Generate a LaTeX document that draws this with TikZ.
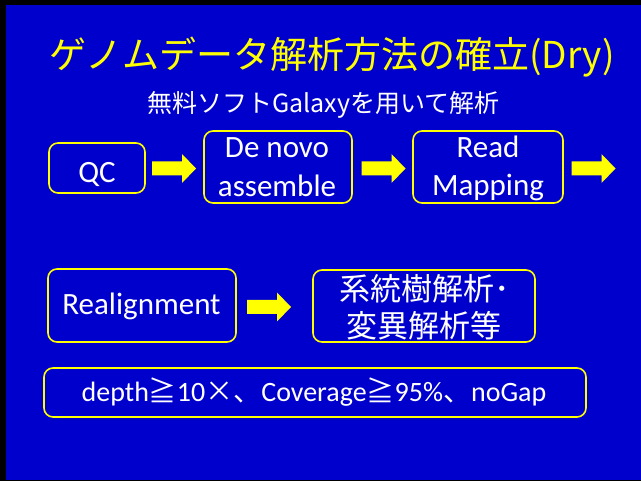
\documentclass[tikz,border=0pt]{standalone}
\usepackage{fontspec}
\setmainfont{Carlito}
\newfontfamily\jp{Noto Sans CJK JP}
\definecolor{bg}{RGB}{0,0,204}
\definecolor{yl}{RGB}{255,255,0}
\tikzset{
  box/.style={draw=yl, line width=1.6pt, rounded corners=9pt, fill=bg, inner sep=0pt},
  btxt/.style={text=white, inner sep=0pt, anchor=base, font=\fontsize{31}{31}\selectfont},
  jtxt/.style={text=white, inner sep=0pt, anchor=base, font=\jp\fontsize{31}{31}\selectfont},
  yarrow/.style={fill=yl}
}
\newcommand\blockarrow[1]{\fill[yarrow] (#1) ++(-22,-7) -- ++(30,0) -- ++(0,-7.5) -- ++(14,14.5) -- ++(-14,14.5) -- ++(0,-7.5) -- ++(-30,0) -- cycle;}
\begin{document}
\begin{tikzpicture}[x=1pt,y=-1pt]
\useasboundingbox (0,0) rectangle (641,481);
\fill[black] (0,0) rectangle (641,481);
\fill[bg] (6,5) rectangle (641,480);
% title
\node[text=yl, inner sep=0pt, anchor=base, font=\jp\fontsize{37}{37}\selectfont] (title) at (332,69) {ゲノムデータ解析方法の確立(Dry)};
\node[text=white, inner sep=0pt, anchor=base, font=\jp\fontsize{25}{25}\selectfont] (sub) at (323.5,113) {無料ソフトGalaxyを用いて解析};
% row 1
\node[box, minimum width=96pt, minimum height=50pt] (qc) at (97,168) {};
\node[btxt] (qct) at (97,183) {QC};
\node[box, minimum width=148pt, minimum height=72pt] (dn) at (278,167) {};
\node[btxt] (dn1) at (277,158) {De novo};
\node[btxt] (dn2) at (277,197) {assemble};
\node[box, minimum width=150pt, minimum height=72pt] (rm) at (488,167) {};
\node[btxt] (rm1) at (488,158) {Read};
\node[btxt] (rm2) at (488,196) {Mapping};
\coordinate (a1) at (174,168.5);
\coordinate (a2) at (383.5,168.5);
\coordinate (a3) at (593.5,168.5);
\blockarrow{a1}
\blockarrow{a2}
\blockarrow{a3}
% row 2
\node[box, minimum width=188pt, minimum height=73pt] (ra) at (142,305.5) {};
\node[btxt] (rat) at (141.5,315) {Realignment};
\coordinate (a4) at (269,307);
\blockarrow{a4}
\node[box, minimum width=222pt, minimum height=72pt] (an) at (424,306) {};
\node[jtxt] (an1) at (424.5,301) {系統樹解析･};
\node[jtxt] (an2) at (424,338) {変異解析等};
% criteria
\node[box, minimum width=542pt, minimum height=49pt] (cr) at (315,392.5) {};
\node[text=white, inner sep=0pt, anchor=base, font=\fontsize{28}{28}\selectfont] (crt) at (314,402) {depth{\jp ≧}10{\jp ×、}Coverage{\jp ≧}95\%{\jp 、}noGap};
\end{tikzpicture}
\end{document}
